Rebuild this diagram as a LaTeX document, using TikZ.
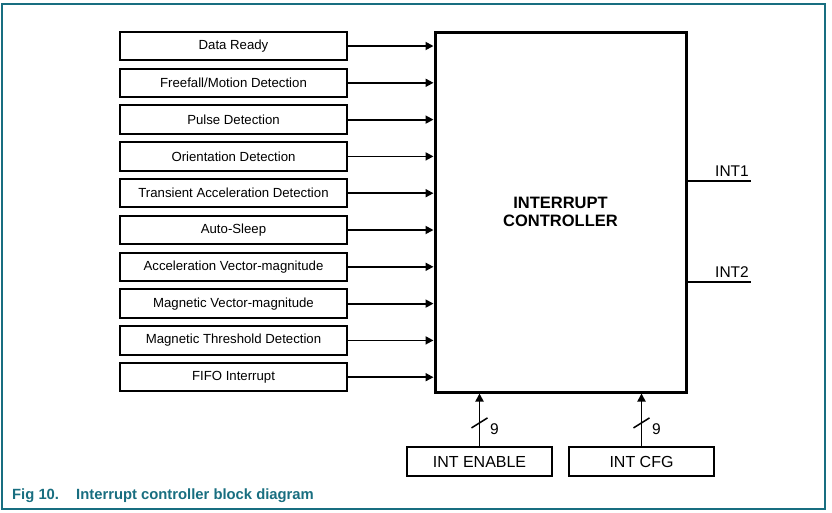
\documentclass[tikz,border=0pt]{standalone}
\usepackage{fontspec}
\setmainfont{Liberation Sans}
\usetikzlibrary{arrows.meta,positioning}
\definecolor{nxpteal}{RGB}{24,110,128}
\begin{document}
\begin{tikzpicture}[
        x=1pt,y=-1pt,
        srcbox/.style={
            draw,line width=2pt,rectangle,inner sep=0pt,
            minimum width=227pt,minimum height=28.5pt,
            font=\fontsize{13.2}{15}\selectfont
        },
        regbox/.style={
            draw,line width=2pt,rectangle,inner sep=0pt,
            minimum width=145pt,minimum height=29pt,
            font=\fontsize{16}{18}\selectfont
        },
        feed/.style={line width=1.8pt,-{Triangle[length=8pt,width=8pt]}},
        pin/.style={font=\fontsize{15.5}{17}\selectfont,inner sep=0pt}
    ]
    \useasboundingbox (0,0) rectangle (832,512);
% Frame
    \draw[nxpteal,line width=1.4pt] (2,4) rectangle (825,509);
% Controller
    \node[draw,line width=3pt,rectangle,minimum width=251pt,minimum height=360pt,
        align=center,font=\bfseries\fontsize{16.5}{18.5}\selectfont] (ctrl) at (560.5,212)
        {INTERRUPT\\CONTROLLER};
% Sources
\foreach\name [count=\i] in {Data Ready,Freefall/Motion Detection,Pulse Detection,
    Orientation Detection,Transient Acceleration Detection,Auto-Sleep,
    Acceleration Vector-magnitude,Magnetic Vector-magnitude,
    Magnetic Threshold Detection,FIFO Interrupt}{
    \node[srcbox] (src\i) at (233.5,{46+36.8*(\i-1)}) {\name};
    \draw[feed] (src\i.east) -- (src\i.east -| ctrl.west);
}
% Outputs
    \coordinate (int1) at (751,181);
    \coordinate (int2) at (751,282);
    \draw[line width=2pt] (int1 -| ctrl.east) -- (int1);
    \draw[line width=2pt] (int2 -| ctrl.east) -- (int2);
    \node[pin,anchor=base east] (int1lbl) at (749,176) {INT1};
    \node[pin,anchor=base east] (int2lbl) at (749,277) {INT2};
% Registers
    \node[regbox] (en) at (479.5,461.5) {INT ENABLE};
    \node[regbox] (cfg) at (641.5,461.5) {INT CFG};
    \draw[feed] (en.north) -- (en.north |- ctrl.south) coordinate[pos=0.44] (enbus);
    \draw[feed] (cfg.north) -- (cfg.north |- ctrl.south) coordinate[pos=0.44] (cfgbus);
    \draw[line width=1.5pt] ([shift={(-8,5)}]enbus) -- ([shift={(8,-5)}]enbus);
    \draw[line width=1.5pt] ([shift={(-8,5)}]cfgbus) -- ([shift={(8,-5)}]cfgbus);
    \node[pin] (enwidth) at ([shift={(15,6)}]enbus) {9};
    \node[pin] (cfgwidth) at ([shift={(15,6)}]cfgbus) {9};
% Caption
    \node[anchor=base west,inner sep=0pt,text=nxpteal,font=\bfseries\fontsize{14.8}{16}\selectfont]
        (fignum) at (12,499) {Fig 10.};
    \node[anchor=base west,inner sep=0pt,text=nxpteal,font=\bfseries\fontsize{14.8}{16}\selectfont]
        (figtitle) at (76,499) {Interrupt controller block diagram};
\end{tikzpicture}
\end{document}
